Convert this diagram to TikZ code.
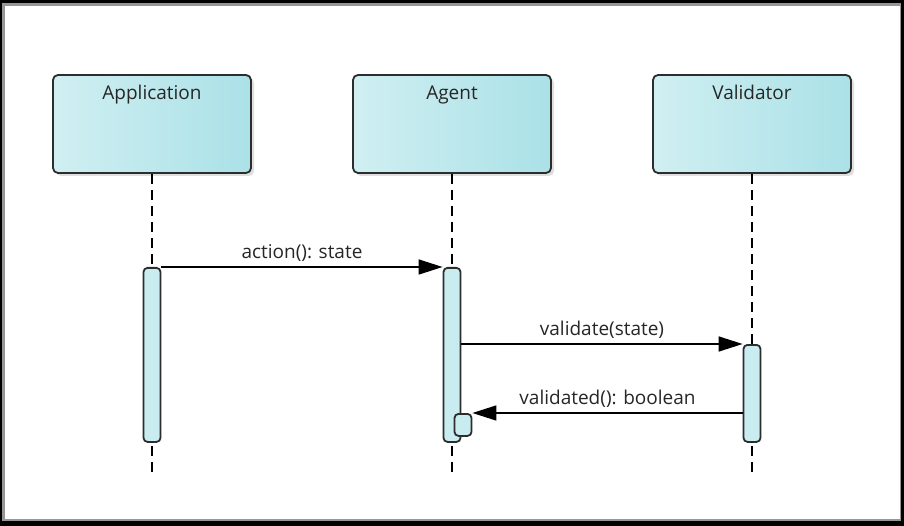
\documentclass[tikz,border=0pt]{standalone}
\usepackage{fontspec}
\setmainfont{Open Sans}
\usetikzlibrary{arrows.meta,positioning,shadows}
\definecolor{headleft}{RGB}{208,239,242}
\definecolor{headright}{RGB}{170,225,231}
\definecolor{barfill}{RGB}{200,236,239}
\definecolor{edgegray}{RGB}{45,45,45}
\definecolor{framegray}{RGB}{150,150,150}
\tikzset{
  lifehead/.style={draw=edgegray, line width=1.8pt, rounded corners=5pt,
    minimum width=198pt, minimum height=98pt, inner sep=0pt,
    left color=headleft, right color=headright,
    drop shadow={shadow xshift=3pt, shadow yshift=-3pt, opacity=0.25}},
  headtitle/.style={font=\fontsize{19}{22}\selectfont, text=black!85,
    anchor=base, inner sep=0pt},
  actbar/.style={draw=edgegray, line width=1.8pt, rounded corners=4pt,
    fill=barfill, minimum width=17pt, inner sep=0pt, anchor=north},
  lifeline/.style={line width=1.4pt, dash pattern=on 10pt off 6pt},
  msg/.style={line width=1.5pt, -{Triangle[length=24pt,width=15pt]}},
  msglabel/.style={font=\fontsize{19}{22}\selectfont, text=black!85,
    above=5pt, inner sep=0pt}
}

\begin{document}
\begin{tikzpicture}[x=1pt,y=-1pt]
  % frame
  \useasboundingbox (0,0) rectangle (904,526);
  \fill[black] (0,0) rectangle (904,526);
  \fill[framegray] (2,3) rectangle (901,521);
  \fill[white] (5,6) rectangle (900,519);

  % lifeline heads
  \node[lifehead] (apphead) at (152,124) {};
  \node[lifehead] (agenthead) at (452,124) {};
  \node[lifehead] (valhead) at (752,124) {};
  \node[headtitle] (apptitle) at (152,100) {Application};
  \node[headtitle] (agenttitle) at (452,100) {Agent};
  \node[headtitle] (valtitle) at (752,100) {Validator};

  % lifelines
  \coordinate (append) at (152,476);
  \coordinate (agentend) at (452,476);
  \coordinate (valend) at (752,476);
  \draw[lifeline] (apphead.south) -- (append);
  \draw[lifeline] (agenthead.south) -- (agentend);
  \draw[lifeline] (valhead.south) -- (valend);

  % activations
  \node[actbar, minimum height=174pt] (appbar) at (152,267) {};
  \node[actbar, minimum height=174pt] (agentbar) at (452,267) {};
  \node[actbar, minimum height=97pt] (valbar) at (752,344) {};
  \node[actbar, minimum height=22pt] (selfbar) at (463,413) {};

  % messages
  \draw[msg] (appbar.north east) -- node[msglabel] {action(): state} (agentbar.north west);
  \draw[msg] (agentbar.east |- valbar.north) -- node[msglabel] {validate(state)} (valbar.north west);
  \draw[msg] (valbar.west |- selfbar.north) -- node[msglabel] {validated(): boolean} (selfbar.north east);
\end{tikzpicture}
\end{document}
